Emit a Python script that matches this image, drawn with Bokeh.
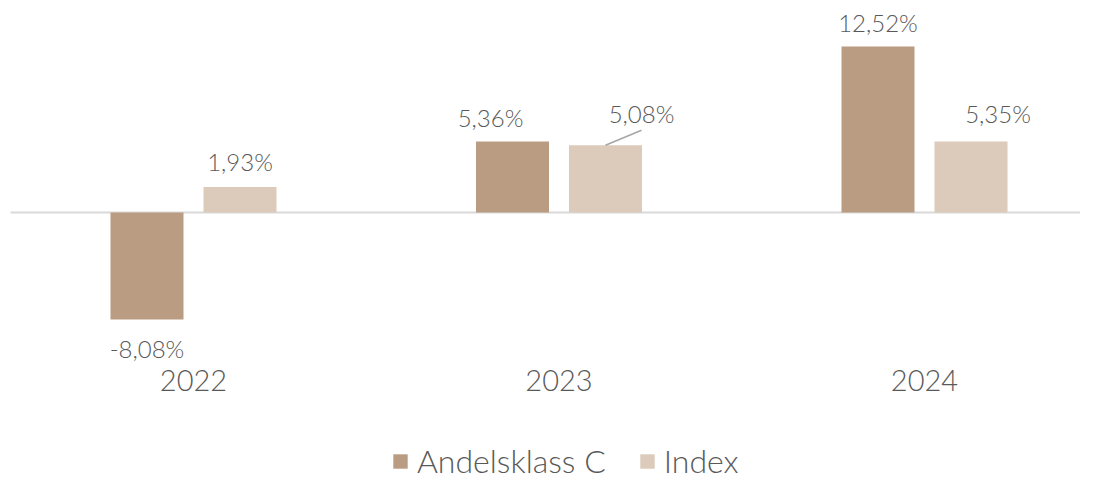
from bokeh.plotting import figure
from bokeh.models import Range1d, Legend, LegendItem, ColumnDataSource
from bokeh.core.properties import value
from bokeh.embed import file_html
from bokeh.resources import INLINE

# ---- data ----
years = ["2022", "2023", "2024"]
andelsklass_c = [-8.08, 5.36, 12.52]
index_vals = [1.93, 5.08, 5.35]
series_names = ["Andelsklass C", "Index"]

# ---- styles ----
DARK = "#b99c81"
LIGHT = "#dccbba"
TEXT = "#595959"
FONT = "Lato Light, Lato"
PX_PER_UNIT_X = 365.5
PX_PER_PCT = 13.25
W, H = 1080, 480
ZERO_PX = 212          # zero line, px from top of plot
CAT0_PX = 193          # centre of first category, px from left
BAR_W = 73 / PX_PER_UNIT_X
DODGE = 46.5 / PX_PER_UNIT_X

x_start = -CAT0_PX / PX_PER_UNIT_X
x_end = x_start + W / PX_PER_UNIT_X
y_end = ZERO_PX / PX_PER_PCT
y_start = -(H - ZERO_PX) / PX_PER_PCT

p = figure(width=W, height=H, output_backend="svg", toolbar_location=None,
           x_range=Range1d(x_start, x_end),
           y_range=Range1d(y_start, y_end),
           min_border=0, outline_line_color=None)
p.axis.visible = False
p.grid.visible = False
p.background_fill_color = "white"
p.border_fill_color = "white"

xs = list(range(len(years)))

# zero line (starts ~10px from left edge)
p.line(x=[x_start + 10 / PX_PER_UNIT_X, x_end], y=[0, 0], line_color="#d9d9d9", line_width=2)

src_a = ColumnDataSource(dict(x=[i - DODGE for i in xs], top=andelsklass_c))
src_i = ColumnDataSource(dict(x=[i + DODGE for i in xs], top=index_vals))
r_a = p.vbar(x="x", top="top", bottom=0, width=BAR_W, source=src_a,
             fill_color=DARK, line_color=None)
r_i = p.vbar(x="x", top="top", bottom=0, width=BAR_W, source=src_i,
             fill_color=LIGHT, line_color=None)

def fmt(v):
    return f"{v:.2f}".replace(".", ",") + "%"

# value label offsets in screen px (dx, dy; dy positive = down)
off_a = [(0, 29), (-22, -24), (0, -24)]
off_i = [(0, -25), (36, -32), (27, -28)]

lab_x = [i - DODGE for i in xs] + [i + DODGE for i in xs]
lab_y = andelsklass_c + index_vals
lab_t = [fmt(v) for v in lab_y]
offs = off_a + off_i
lab_src = ColumnDataSource(dict(x=lab_x, y=lab_y, text=lab_t,
                                dx=[o[0] for o in offs], dy=[o[1] for o in offs]))
p.text(x="x", y="y", text="text", x_offset="dx", y_offset="dy", source=lab_src,
       text_align="center", text_baseline="middle", text_color=TEXT,
       text_font=value(FONT), text_font_size="24px")

# leader line for Index 2023 label
i_lead = 1
lx0 = i_lead + DODGE
ly0 = index_vals[i_lead]
p.line(x=[lx0, lx0 + 36 / PX_PER_UNIT_X], y=[ly0, ly0 + 15 / PX_PER_PCT],
       line_color="#a6a6a6", line_width=1.5)

# year labels
yr_src = ColumnDataSource(dict(x=xs, y=[0] * len(xs), text=years))
p.text(x="x", y="y", text="text", y_offset=168, source=yr_src,
       text_align="center", text_baseline="middle", text_color=TEXT,
       text_font=value(FONT), text_font_size="29px")

legend = Legend(items=[LegendItem(label=series_names[0], renderers=[r_a]),
                       LegendItem(label=series_names[1], renderers=[r_i])],
                orientation="horizontal", location=(391, 0),
                padding=0, margin=0, spacing=32, label_standoff=8,
                glyph_width=18, glyph_height=18,
                label_text_font=FONT, label_text_font_size="32px",
                label_text_color=TEXT, label_text_baseline="middle",
                border_line_color=None, background_fill_alpha=0)
p.add_layout(legend)

open("out.html", "w").write(file_html(p, INLINE))
